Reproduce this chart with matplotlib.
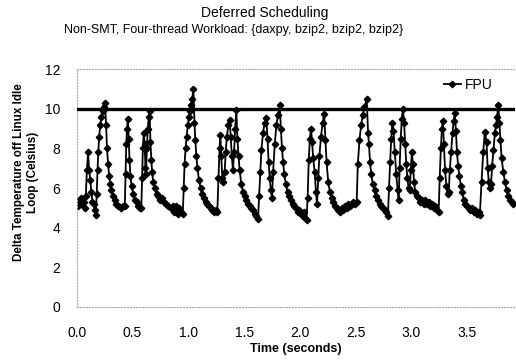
import matplotlib
matplotlib.use("Agg")
import matplotlib.pyplot as plt

# FPU temperature trace (seconds, Celsius above idle)
time_s = [
    0.00, 0.01, 0.02, 0.03, 0.04, 0.05, 0.06, 0.07, 0.08, 0.09, 0.10, 0.11, 0.12, 0.13, 0.14, 0.15, 0.16, 0.17,
    0.178, 0.185, 0.192, 0.20, 0.21, 0.22, 0.23, 0.24, 0.252, 0.262, 0.27, 0.28, 0.29, 0.30, 0.31, 0.325, 0.34,
    0.355, 0.37, 0.385, 0.40, 0.415, 0.43, 0.437, 0.443, 0.45, 0.457, 0.465, 0.472, 0.48, 0.49, 0.505, 0.52,
    0.535, 0.55, 0.565, 0.578, 0.585, 0.592, 0.60, 0.608, 0.615, 0.62, 0.628, 0.636, 0.645, 0.652, 0.66, 0.668,
    0.675, 0.685, 0.70, 0.715, 0.73, 0.745, 0.76, 0.78, 0.80, 0.82, 0.84, 0.86, 0.875, 0.89, 0.905, 0.92, 0.935,
    0.95, 0.958, 0.966, 0.975, 0.985, 0.995, 1.005, 1.015, 1.025, 1.035, 1.045, 1.055, 1.063, 1.072, 1.082,
    1.095, 1.11, 1.125, 1.14, 1.155, 1.17, 1.185, 1.20, 1.215, 1.23, 1.245, 1.26, 1.27, 1.28, 1.287, 1.295,
    1.305, 1.312, 1.325, 1.335, 1.345, 1.36, 1.37, 1.38, 1.39, 1.40, 1.41, 1.42, 1.43, 1.44, 1.45, 1.46, 1.475,
    1.49, 1.505, 1.52, 1.535, 1.55, 1.565, 1.58, 1.595, 1.61, 1.625, 1.635, 1.645, 1.655, 1.67, 1.685, 1.70,
    1.71, 1.72, 1.73, 1.74, 1.75, 1.76, 1.775, 1.79, 1.805, 1.82, 1.83, 1.84, 1.85, 1.86, 1.875, 1.89, 1.905,
    1.92, 1.935, 1.95, 1.965, 1.98, 1.995, 2.01, 2.025, 2.04, 2.05, 2.06, 2.07, 2.08, 2.09, 2.10, 2.11, 2.12,
    2.133, 2.145, 2.154, 2.165, 2.175, 2.19, 2.205, 2.218, 2.23, 2.24, 2.255, 2.27, 2.285, 2.30, 2.315, 2.33,
    2.345, 2.36, 2.375, 2.39, 2.405, 2.42, 2.435, 2.45, 2.465, 2.48, 2.495, 2.51, 2.52, 2.535, 2.55, 2.565,
    2.58, 2.60, 2.612, 2.62, 2.63, 2.64, 2.655, 2.67, 2.685, 2.70, 2.715, 2.73, 2.745, 2.76, 2.775, 2.79, 2.80,
    2.81, 2.82, 2.83, 2.84, 2.852, 2.865, 2.877, 2.887, 2.895, 2.905, 2.915, 2.925, 2.935, 2.945, 2.955, 2.965,
    2.975, 2.985, 2.995, 3.005, 3.015, 3.025, 3.035, 3.05, 3.065, 3.08, 3.095, 3.11, 3.125, 3.14, 3.155, 3.17,
    3.185, 3.20, 3.215, 3.23, 3.245, 3.255, 3.265, 3.275, 3.283, 3.293, 3.303, 3.315, 3.325, 3.336, 3.345,
    3.357, 3.37, 3.38, 3.39, 3.40, 3.41, 3.42, 3.432, 3.445, 3.456, 3.47, 3.485, 3.50, 3.515, 3.53, 3.545,
    3.56, 3.575, 3.59, 3.605, 3.615, 3.63, 3.645, 3.66, 3.675, 3.685, 3.695, 3.705, 3.715, 3.725, 3.737, 3.75,
    3.76, 3.77, 3.78, 3.79, 3.80, 3.81, 3.826, 3.84, 3.855, 3.87, 3.885, 3.90, 3.915,
]
fpu_temp = [
    5.3, 5.1, 5.4, 5.2, 5.5, 5.2, 5.3, 5.0, 5.6, 6.9, 7.8, 6.9, 6.4, 5.8, 5.3, 5.2, 4.9, 4.65,
    5.7, 6.9, 7.8, 8.6, 9.2, 9.6, 9.9, 10.1, 10.3, 9.2, 8.0, 7.2, 6.6, 6.2, 5.9, 5.6, 5.4,
    5.2, 5.1, 5.05, 5.0, 5.1, 5.1, 6.7, 8.2, 9.0, 9.5, 8.5, 7.4, 6.6, 6.1, 5.7, 5.4,
    5.3, 5.1, 5.0, 5.0, 6.5, 8.0, 8.8, 8.2, 7.0, 6.7, 8.0, 9.0, 9.6, 9.9, 8.3, 7.4,
    6.8, 6.3, 6.0, 5.7, 5.6, 5.4, 5.5, 5.3, 5.2, 5.1, 5.0, 5.1, 4.8, 5.1, 4.7, 5.0, 4.8,
    4.7, 6.0, 7.2, 8.0, 8.6, 9.2, 9.6, 9.9, 10.2, 10.5, 11.0, 9.3, 8.4, 7.6, 7.0,
    6.4, 6.0, 5.7, 5.5, 5.3, 5.2, 5.1, 5.0, 4.9, 4.8, 4.9, 4.8, 6.5, 8.0, 8.7, 7.6,
    6.5, 6.3, 6.8, 7.8, 8.6, 9.2, 9.45, 8.6, 7.6, 6.9, 7.8, 9.0, 9.95, 8.5, 7.6, 6.9, 6.2,
    5.8, 5.6, 5.4, 5.2, 5.1, 5.0, 4.9, 4.7, 4.6, 4.45, 5.6, 6.8, 7.9, 8.8, 9.3, 9.55,
    8.5, 7.3, 6.5, 5.9, 5.5, 6.8, 8.2, 9.2, 9.7, 10.2, 9.0, 8.0, 7.3, 6.7, 6.2, 5.8, 5.6,
    5.4, 5.2, 5.1, 5.0, 4.8, 4.9, 4.7, 4.6, 4.8, 4.5, 4.4, 5.5, 7.4, 8.5, 9.0, 8.3, 7.5,
    6.8, 5.8, 5.2, 6.5, 7.6, 8.6, 9.3, 9.75, 8.4, 7.3, 6.3, 5.8, 5.5, 5.3, 5.1, 5.0,
    4.9, 4.8, 5.0, 4.9, 5.1, 5.0, 5.2, 5.1, 5.2, 5.3, 5.2, 5.3, 7.2, 8.4, 9.2, 9.7,
    10.1, 10.5, 8.8, 8.2, 7.3, 6.7, 6.2, 5.9, 5.6, 5.4, 5.2, 5.1, 5.0, 4.9, 4.8, 4.6, 6.0,
    7.3, 8.5, 9.3, 8.9, 7.8, 6.7, 5.9, 5.4, 7.0, 8.5, 9.5, 10.0, 9.3, 8.2, 7.2, 6.5,
    6.0, 5.9, 6.9, 7.8, 7.2, 6.3, 5.8, 5.6, 5.5, 5.3, 5.4, 5.2, 5.4, 5.2, 5.3, 5.1,
    5.2, 5.0, 5.1, 4.9, 4.8, 6.5, 8.0, 9.0, 9.4, 8.2, 6.9, 6.1, 5.7, 5.8, 6.9,
    7.8, 8.8, 9.4, 9.8, 8.9, 7.8, 7.1, 6.6, 6.1, 5.8, 5.4, 5.2, 5.1, 5.0, 4.9, 5.0,
    4.8, 4.9, 4.7, 4.8, 4.65, 6.3, 7.8, 8.85, 8.3, 7.0, 6.3, 6.0, 6.2, 7.1, 7.9, 8.8,
    9.2, 9.6, 10.2, 9.3, 8.4, 7.5, 6.8, 6.3, 5.9, 5.6, 5.4, 5.3, 5.2,
]
threshold = 10
x_ticks = [0.0, 0.5, 1.0, 1.5, 2.0, 2.5, 3.0, 3.5]
y_ticks = [0, 2, 4, 6, 8, 10, 12]

plt.rcParams['font.family'] = ['Liberation Sans', 'DejaVu Sans']

fig = plt.figure(figsize=(5.16, 3.62), dpi=100)
ax = fig.add_axes([0.149, 0.152, 0.849, 0.657])

ax.plot(time_s, fpu_temp, color='black', lw=1.3, marker='D', ms=3.3, label='FPU')
ax.axhline(threshold, color='black', lw=2.4, zorder=3)

ax.set_xlim(0, 3.93)
ax.set_ylim(0, 12)
ax.set_xticks(x_ticks)
ax.set_xticklabels(['%.1f' % t for t in x_ticks])
ax.set_yticks(y_ticks)
ax.tick_params(axis='y', length=0, labelsize=10, pad=12)
ax.tick_params(axis='x', length=0, labelsize=10, pad=14)

for side in ['top', 'bottom', 'left']:
    ax.spines[side].set_color('#aaaaaa')
    ax.spines[side].set_linestyle(':')
    ax.spines[side].set_linewidth(0.8)
ax.spines['right'].set_visible(False)

ax.set_xlabel('Time (seconds)', fontsize=9, fontweight='bold', labelpad=2)
fig.text(0.05, 0.525, 'Delta Temperature off Linux Idle\nLoop (Celsius)', rotation=90,
         ha='center', va='center', multialignment='center', fontsize=8.4,
         fontweight='bold', linespacing=1.25)

fig.text(0.512, 0.965, 'Deferred Scheduling', ha='center', va='center', fontsize=10)
fig.text(0.452, 0.916, 'Non-SMT, Four-thread Workload: {daxpy, bzip2, bzip2, bzip2}',
         ha='center', va='center', fontsize=9)

ax.legend(loc='upper right', bbox_to_anchor=(0.955, 0.785), bbox_transform=fig.transFigure,
          frameon=False, fontsize=10, handlelength=1.2, handletextpad=0.3,
          borderpad=0, borderaxespad=0)

plt.savefig('out.png', dpi=100)
